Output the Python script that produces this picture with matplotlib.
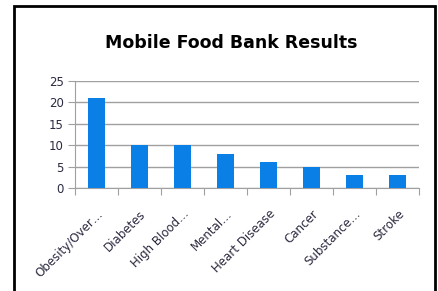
import matplotlib.pyplot as plt
import numpy as np
from matplotlib.patches import Rectangle

# Chart data
categories = ["Obesity/Over…", "Diabetes", "High Blood…", "Mental…",
              "Heart Disease", "Cancer", "Substance…", "Stroke"]
values = [21, 10, 10, 8, 6, 5, 3, 3]
y_ticks = [0, 5, 10, 15, 20, 25]

bar_color = '#0A7FE6'
grid_color = '#A0A0A0'
text_color = '#2A2A40'

fig = plt.figure(figsize=(4.38, 2.91), dpi=100)
ax = fig.add_axes([75/438, 1 - 188/291, 344/438, 107/291])

x = np.arange(len(categories))
ax.bar(x, values, width=0.4, color=bar_color, zorder=3)

ax.set_xlim(-0.5, len(categories) - 0.5)
ax.set_ylim(0, 25)
ax.set_yticks(y_ticks)
ax.set_yticklabels([str(t) for t in y_ticks], fontsize=8.5, color=text_color)
ax.grid(axis='y', color=grid_color, linewidth=1, zorder=0)

# category separators as ticks on the x axis
ax.set_xticks(np.arange(len(categories) + 1) - 0.5, minor=False)
ax.set_xticklabels([])
ax.set_xticks(x, minor=True)
ax.set_xticklabels(categories, minor=True, rotation=45, ha='right',
                   rotation_mode='anchor', fontsize=8.5, color=text_color)
ax.tick_params(axis='x', which='major', length=5, color=grid_color)
ax.tick_params(axis='x', which='minor', length=0, pad=14)
ax.tick_params(axis='y', length=5, color=grid_color, pad=3)

for side in ['top', 'right']:
    ax.spines[side].set_visible(False)
ax.spines['left'].set_color(grid_color)
ax.spines['bottom'].set_color(grid_color)

fig.text(231/438, 1 - 43/291, "Mobile Food Bank Results", ha='center',
         va='center', fontsize=12.5, fontweight='bold', color='black')

# black frame around the chart (bottom edge is cut off)
fig.patches.append(Rectangle((14/438, -0.05), 421/438, 1.05 - 6/291,
                             transform=fig.transFigure, fill=False,
                             edgecolor='black', linewidth=2))

plt.savefig('out.png', dpi=100)
